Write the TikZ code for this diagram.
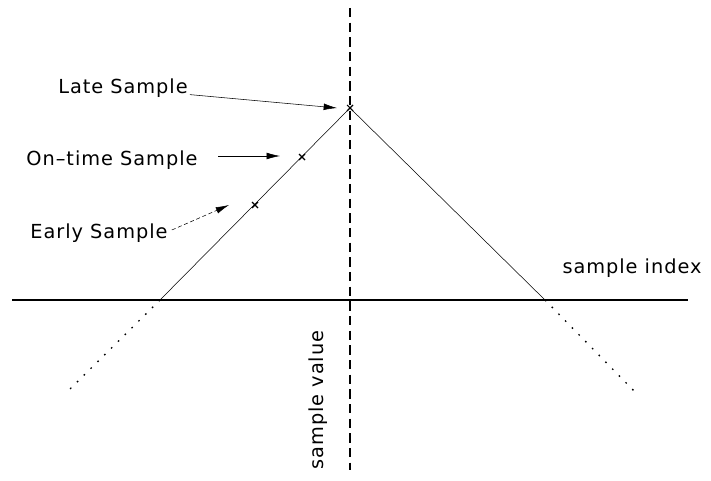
\documentclass[tikz,border=0pt]{standalone}
\usepackage{fontspec}
\setmainfont{DejaVu Sans}[LetterSpace=5]
\usetikzlibrary{calc,arrows.meta}
\begin{document}
\begin{tikzpicture}[x=0.75pt,y=-0.75pt,>={Latex[length=10pt,width=5pt]},
  lbl/.style={font=\fontsize{14.5}{16}\selectfont,inner sep=0pt},
  mk/.style={line width=0.8pt}]
\useasboundingbox (0,0) rectangle (711,481);
% axes
\draw[dash pattern=on 7pt off 4pt,line width=0.9pt] (350,8) -- (350,470);
\draw[line width=1pt] (12,300) -- (688,300);
% triangle
\coordinate (peak) at (350,108);
\coordinate (lfoot) at (160,300);
\coordinate (rfoot) at (545,300);
\draw (lfoot) -- (peak) -- (rfoot);
\draw[dash pattern=on 1.2pt off 6pt,line width=1pt] (lfoot) -- (67,392);
\draw[dash pattern=on 1.2pt off 6pt,line width=1pt] (rfoot) -- (636,393);
% samples
\coordinate (late) at (350,108);
\coordinate (ontime) at (302,157);
\coordinate (early) at (255,205);
\foreach \p in {late,ontime,early}
  \draw[mk] ($(\p)+(-3,-3)$) -- ($(\p)+(3,3)$) ($(\p)+(-3,3)$) -- ($(\p)+(3,-3)$);
% labels
\node[lbl] (latelbl) at (123,88) {Late Sample};
\node[lbl] (ontimelbl) at (112,160) {On--time Sample};
\node[lbl] (earlylbl) at (99,233) {Early Sample};
\node[lbl] (xlbl) at (632,268) {sample index};
\node[lbl,rotate=90] (ylbl) at (318,400) {sample value};
\draw[->] ($(latelbl.south east)+(2,-3)$) -- ($(late)+(-13,0)$);
\draw[->] (218,156) -- (280,156);
\draw[->,densely dashed] ($(earlylbl.east)+(4,-3)$) -- (229,205);
\end{tikzpicture}
\end{document}
